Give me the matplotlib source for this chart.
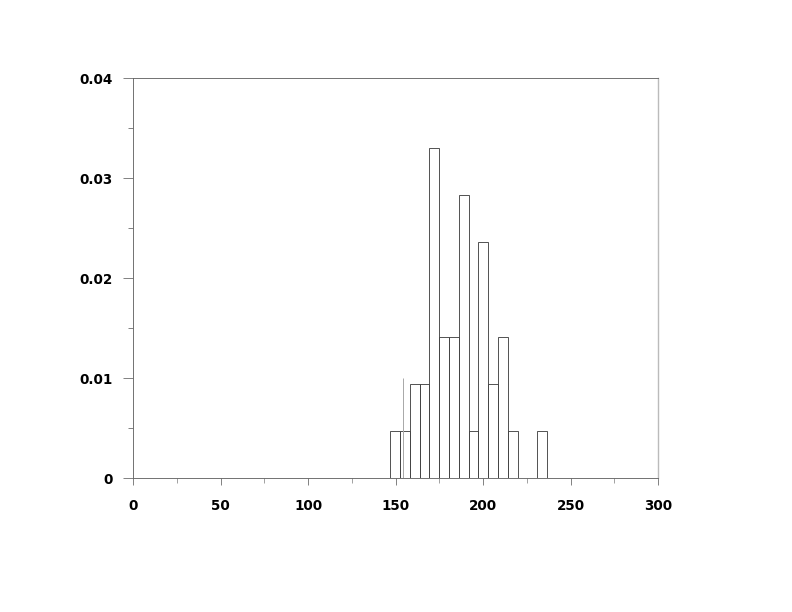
import matplotlib
matplotlib.use("Agg")
import matplotlib.pyplot as plt
from matplotlib.ticker import MultipleLocator

# Histogram bin edges (left) and bar heights
bin_left = [147.0, 152.6, 158.2, 163.8, 169.4, 175.0, 180.6, 186.2,
            191.8, 197.4, 203.0, 208.6, 214.2, 219.8, 225.4, 231.0]
bin_width = 5.6
density = [0.0047, 0.0047, 0.0094, 0.0094, 0.0330, 0.0141, 0.0141, 0.0283,
           0.0047, 0.0236, 0.0094, 0.0141, 0.0047, 0.0, 0.0, 0.0047]
# faint reference line seen in the plot
ref_x = 154.0
ref_h = 0.0100

x_ticks = [0, 50, 100, 150, 200, 250, 300]
y_ticks = [0, 0.01, 0.02, 0.03, 0.04]
y_labels = ["0", "0.01", "0.02", "0.03", "0.04"]

plt.rcParams['font.family'] = ['DejaVu Sans']

fig = plt.figure(figsize=(11, 8.5), dpi=72)
ax = fig.add_axes([133/792, 1-478/612, (658-133)/792, (478-78)/612])

ax.bar(bin_left, density, width=bin_width, align='edge',
       facecolor='none', edgecolor='#444444', linewidth=0.9)
ax.vlines(ref_x, 0, ref_h, color='#aaaaaa', linewidth=1.0)

ax.set_xlim(0, 300)
ax.set_ylim(0, 0.04)
ax.set_xticks(x_ticks)
ax.set_xticklabels([str(t) for t in x_ticks])
ax.set_yticks(y_ticks)
ax.set_yticklabels(y_labels)
ax.xaxis.set_minor_locator(MultipleLocator(25))
ax.yaxis.set_minor_locator(MultipleLocator(0.005))

for s in ax.spines.values():
    s.set_color('#666666')
    s.set_linewidth(0.9)
ax.spines['right'].set_color('#bbbbbb')
ax.spines['right'].set_linewidth(1.4)

ax.tick_params(axis='x', which='major', direction='out', length=7, width=0.9,
               color='#777777', labelsize=13.5, pad=14)
ax.tick_params(axis='x', which='minor', direction='out', length=5, width=0.9,
               color='#999999')
ax.tick_params(axis='y', which='major', direction='out', length=10, width=0.9,
               color='#777777', labelsize=13.5, pad=10)
ax.tick_params(axis='y', which='minor', direction='out', length=5, width=0.9,
               color='#777777')
for lab in ax.get_xticklabels() + ax.get_yticklabels():
    lab.set_fontweight('bold')
    lab.set_color('black')

fig.savefig("out.png", dpi=72)
